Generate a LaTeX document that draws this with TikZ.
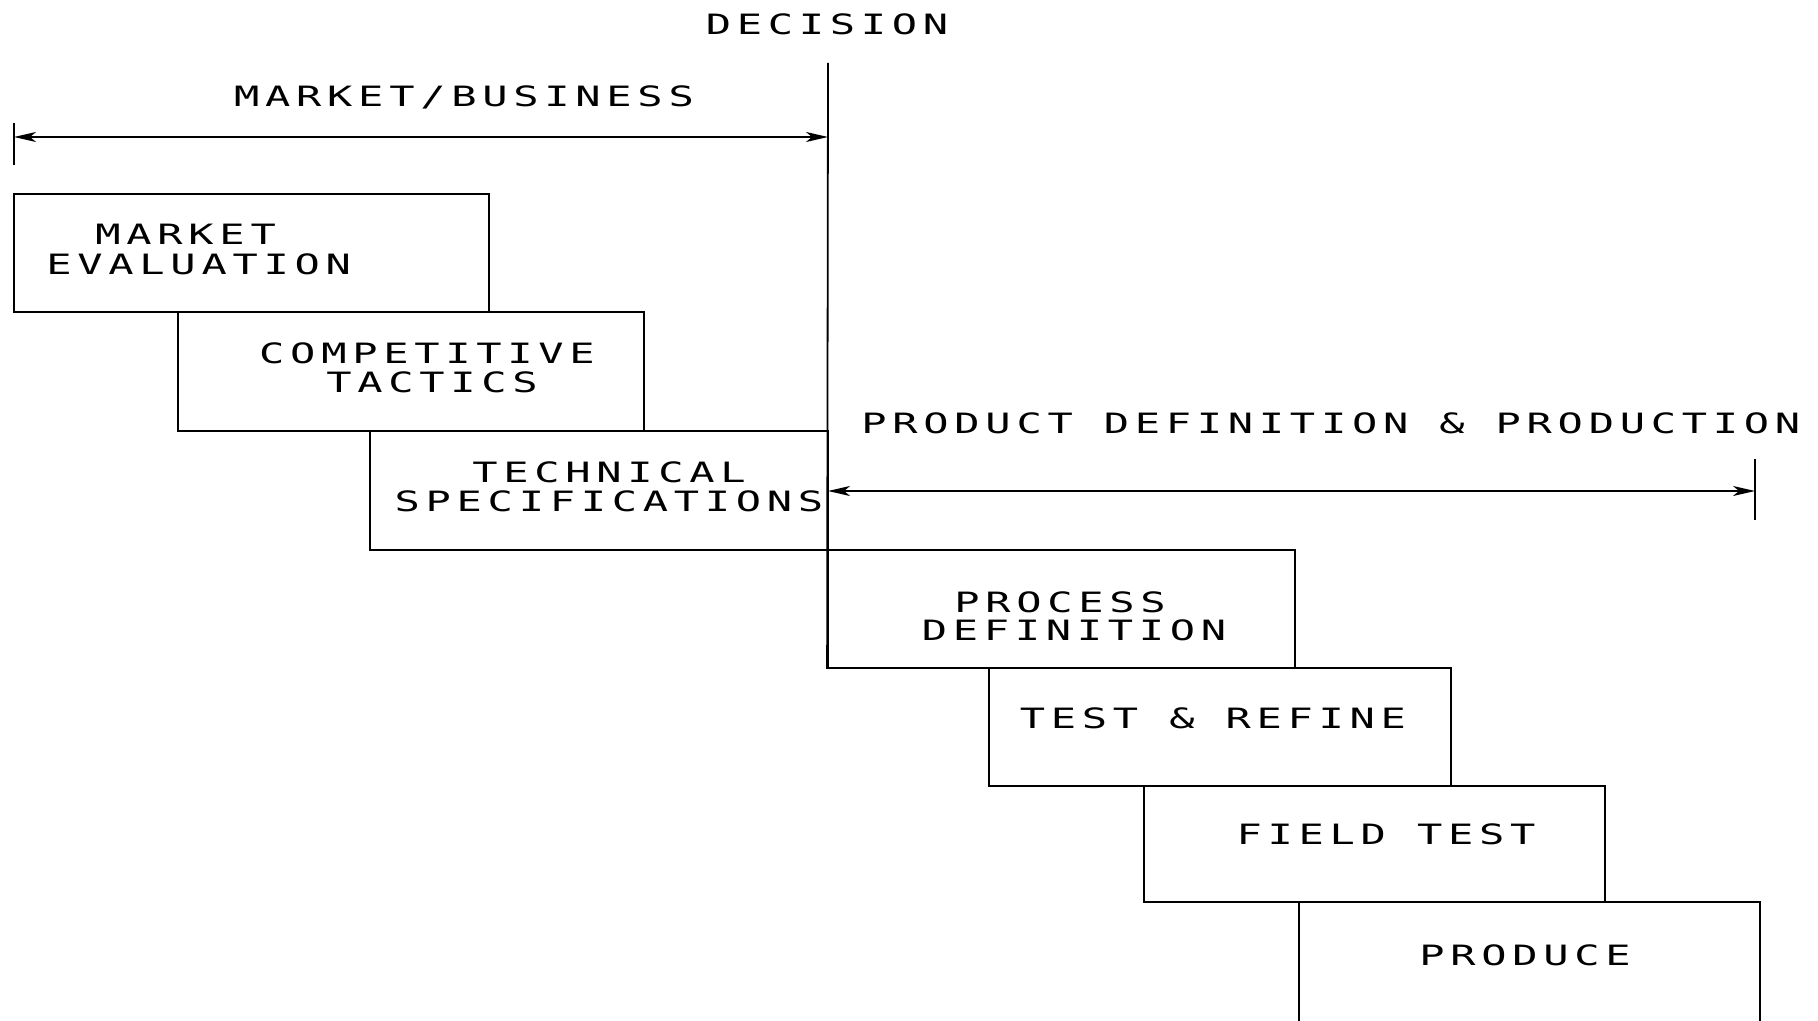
\documentclass[tikz,border=0pt]{standalone}
\usepackage{fontspec}
\usetikzlibrary{arrows.meta,fit}
% wide, evenly spaced plotter-style lettering
\newfontfamily\plotfont[FakeStretch=1.5,LetterSpace=20.5]{DejaVu Sans Mono}
\begin{document}
\begin{tikzpicture}[x=0.5pt,y=-0.5pt,
  lbl/.style={inner sep=0pt, font=\plotfont\fontsize{14}{16}\selectfont},
  stagebox/.style={draw, line width=0.9pt, inner sep=0pt},
  rule/.style={line width=0.9pt},
  span/.style={line width=0.9pt, {Stealth[length=11pt,width=5pt,inset=3pt]}-{Stealth[length=11pt,width=5pt,inset=3pt]}}]
\useasboundingbox (0,0) rectangle (1818,1021);
\clip (0,0) rectangle (1818,1021);

% stages of the staircase
\node[stagebox, fit={(14,194) (489,312)}] (me) {};
\node[stagebox, fit={(178,312) (644,431)}] (ct) {};
\node[stagebox, fit={(370,431) (828,550)}] (ts) {};
\node[stagebox, fit={(828,550) (1295,668)}] (pd) {};
\node[stagebox, fit={(989,668) (1451,786)}] (tr) {};
\node[stagebox, fit={(1144,786) (1605,902)}] (ft) {};
\node[stagebox, fit={(1299,902) (1760,1060)}] (pr) {};

% stage labels
\node[lbl, anchor=base west] (meA) at (95,245) {MARKET};
\node[lbl, anchor=base west] (meB) at (46,274.5) {EVALUATION};
\node[lbl, anchor=base] (ctA) at (427,363.5) {COMPETITIVE};
\node[lbl, anchor=base] (ctB) at (432,392) {TACTICS};
\node[lbl, anchor=base] (tsA) at (609,482) {TECHNICAL};
\node[lbl, anchor=base] (tsB) at (609,511.5) {SPECIFICATIONS};
\node[lbl, anchor=base] (pdA) at (1060,612) {PROCESS};
\node[lbl, anchor=base] (pdB) at (1074,640) {DEFINITION};
\node[lbl, anchor=base] (trA) at (1213,728) {TEST \& REFINE};
\node[lbl, anchor=base] (ftA) at (1386,844) {FIELD TEST};
\node[lbl, anchor=base] (prA) at (1525,965) {PRODUCE};

% decision line
\node[lbl, anchor=base] (dec) at (827,35) {DECISION};
\coordinate (dtop) at (828,63);
\draw[rule] (dtop) -- (pd.south west);

% market / business span
\node[lbl, anchor=base] (mb) at (464,107) {MARKET/BUSINESS};
\coordinate (mbL) at (14,137);
\coordinate (mbR) at (828,137);
\coordinate (mbT) at (14,123);
\coordinate (mbB) at (14,165);
\draw[rule] (mbT) -- (mbB);
\draw[span] (mbL) -- (mbR);

% product definition & production span
\node[lbl, anchor=base west] (pdp) at (861,433) {PRODUCT DEFINITION \& PRODUCTION};
\coordinate (ppL) at (828,491);
\coordinate (ppR) at (1755,491);
\coordinate (ppT) at (1755,459);
\coordinate (ppB) at (1755,520);
\draw[rule] (ppT) -- (ppB);
\draw[span] (ppL) -- (ppR);
\end{tikzpicture}
\end{document}
